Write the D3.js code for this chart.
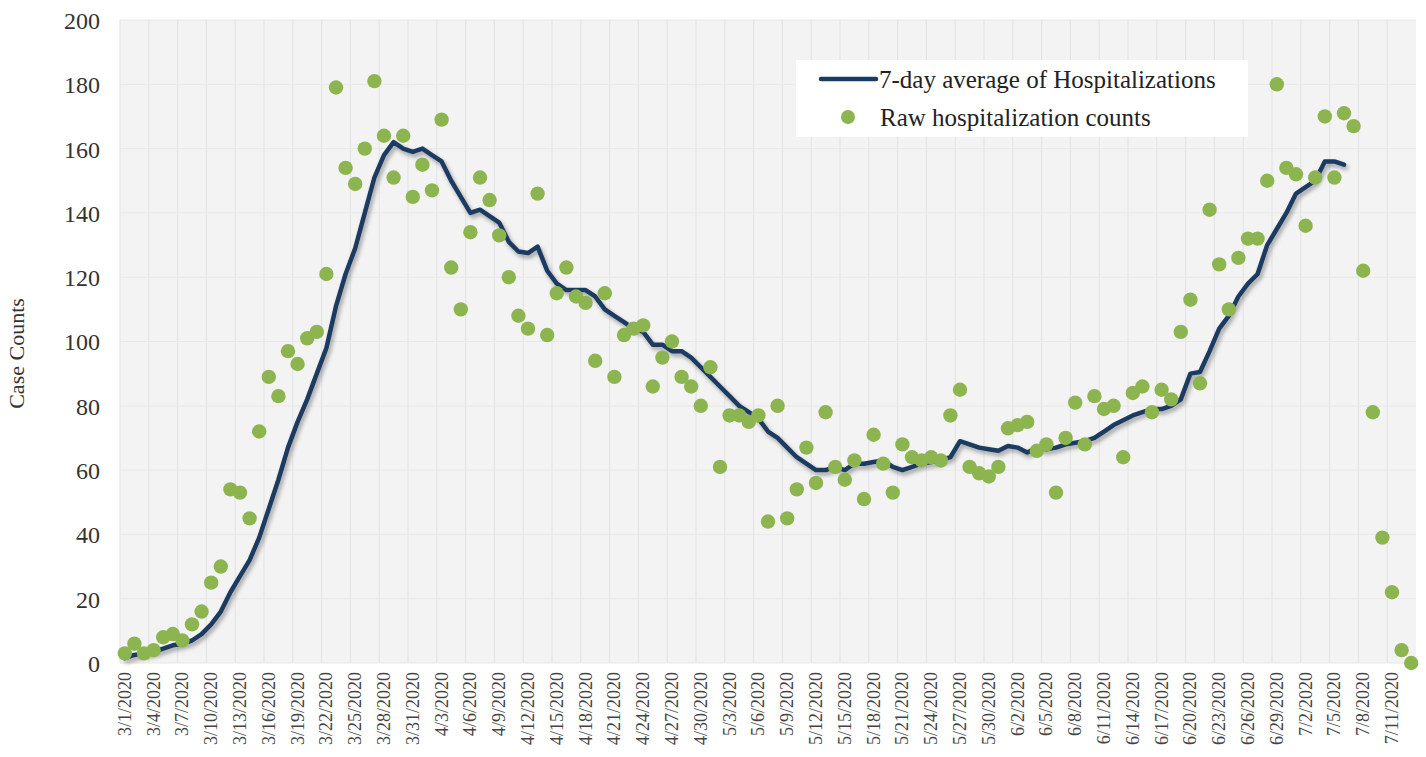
<!DOCTYPE html>
<html>
<head>
<meta charset="utf-8">
<script src="https://cdn.jsdelivr.net/npm/d3@7"></script>
<style>
  body { margin: 0; background: #fff; }
  svg { display: block; }
  svg text { font-family: "Liberation Serif", "DejaVu Serif", serif; }
  .y-axis text { font-size: 24px; fill: #333; }
  .x-label { font-size: 18px; fill: #444; }
  .legend-text { font-size: 25px; fill: #222; }
</style>
</head>
<body>
<svg id="chart"></svg>
<script>
// --- DATA ---
const startDate = new Date(2020, 2, 1);
const endDate = new Date(2020, 6, 14); // exclusive, last day 7/13
const dates = d3.timeDay.range(startDate, endDate);

// raw daily hospitalization counts, one per day from 3/1
const rawCounts = [
  3, 6, 3, 4, 8, 9, 7, 12, 16, 25,
  30, 54, 53, 45, 72, 89, 83, 97, 93, 101,
  103, 121, 179, 154, 149, 160, 181, 164, 151, 164,
  145, 155, 147, 169, 123, 110, 134, 151, 144, 133,
  120, 108, 104, 146, 102, 115, 123, 114, 112, 94,
  115, 89, 102, 104, 105, 86, 95, 100, 89, 86,
  80, 92, 61, 77, 77, 75, 77, 44, 80, 45,
  54, 67, 56, 78, 61, 57, 63, 51, 71, 62,
  53, 68, 64, 63, 64, 63, 77, 85, 61, 59,
  58, 61, 73, 74, 75, 66, 68, 53, 70, 81,
  68, 83, 79, 80, 64, 84, 86, 78, 85, 82,
  103, 113, 87, 141, 124, 110, 126, 132, 132, 150,
  180, 154, 152, 136, 151, 170, 151, 171, 167, 122,
  78, 39, 22, 4, 0
];

// 7-day average line (ends 7/7)
const avgCounts = [
  1.5, 2.5, 3, 3.5, 4.5, 5.5, 6, 7, 9, 12,
  16, 22, 27, 32, 39, 48, 57, 67, 75, 82,
  90, 98, 111, 121, 129, 140, 151, 158, 162, 160,
  159, 160, 158, 156, 150, 145, 140, 141, 139, 137,
  131, 128, 127.5, 129.5, 122, 118, 116, 116, 116, 114,
  110, 108, 106, 104, 103, 99, 99, 97, 97, 95,
  92, 89, 86, 83, 80, 78, 76, 72, 70, 67,
  64, 62, 60, 60, 61, 60, 62, 62, 62.5, 63,
  61, 60, 61, 62, 62.5, 63, 64, 69, 68, 67,
  66.5, 66, 67.5, 67, 65.5, 67, 66.5, 67, 68, 68.5,
  69, 70, 72, 74, 75.5, 77, 78, 79, 79, 80,
  82, 90, 90.5, 97, 104, 108, 114, 118, 121, 130,
  135, 140, 146, 148, 150, 156, 156, 155
];

const yTicks = [0, 20, 40, 60, 80, 100, 120, 140, 160, 180, 200];
const seriesNames = ["7-day average of Hospitalizations", "Raw hospitalization counts"];

// --- SETUP ---
const W = 1426, H = 757;
const plot = { left: 120, right: 1416, top: 20, bottom: 663 };
const lineColor = "#1d3b61";
const dotColor = "#8cb550";

const svg = d3.select("#chart").attr("width", W).attr("height", H);

const defs = svg.append("defs");
const shadow = defs.append("filter").attr("id", "shadow")
  .attr("x", "-5%").attr("y", "-5%").attr("width", "110%").attr("height", "110%");
shadow.append("feDropShadow")
  .attr("dx", 2).attr("dy", 3).attr("stdDeviation", 2)
  .attr("flood-color", "#000").attr("flood-opacity", 0.35);

const xScale = d3.scaleBand().domain(dates).range([plot.left, plot.right]).padding(0);
const yScale = d3.scaleLinear().domain([0, 200]).range([plot.bottom, plot.top]);
const xc = d => xScale(d) + xScale.bandwidth() / 2;
const fmt = d3.timeFormat("%-m/%-d/%Y");

// plot background
svg.append("rect")
  .attr("x", plot.left).attr("y", plot.top)
  .attr("width", plot.right - plot.left).attr("height", plot.bottom - plot.top)
  .attr("fill", "#f3f3f3");

// gridlines
const tickDates = dates.filter((d, i) => i % 3 === 0);
svg.append("g").selectAll("line").data(tickDates).join("line")
  .attr("x1", d => xScale(d)).attr("x2", d => xScale(d))
  .attr("y1", plot.top).attr("y2", plot.bottom)
  .attr("stroke", "#e4e4e4").attr("stroke-width", 1.2);

svg.append("g").selectAll("line").data(yTicks).join("line")
  .attr("x1", plot.left).attr("x2", plot.right)
  .attr("y1", d => yScale(d)).attr("y2", d => yScale(d))
  .attr("stroke", "#e8e8e8").attr("stroke-width", 1);

// y axis
const yAxisGroup = svg.append("g")
  .attr("class", "y-axis")
  .attr("transform", `translate(${plot.left - 20},0)`)
  .call(d3.axisLeft(yScale).tickValues(yTicks).tickSize(0).tickPadding(0));
yAxisGroup.attr("font-family", null).attr("font-size", null);
yAxisGroup.select(".domain").remove();
yAxisGroup.selectAll("text").attr("dy", "0.35em");

// x labels
svg.append("g").selectAll("text").data(tickDates).join("text")
  .attr("class", "x-label")
  .attr("text-anchor", "end")
  .attr("transform", d => `translate(${xc(d) + 6},${plot.bottom + 9}) rotate(-90)`)
  .text(d => fmt(d));

// y axis title
svg.append("text")
  .attr("text-anchor", "middle")
  .attr("transform", `translate(24,${(plot.top + plot.bottom) / 2 + 12}) rotate(-90)`)
  .style("font-size", "22px").style("fill", "#333")
  .text("Case Counts");

// 7-day average line
const line = d3.line()
  .x((d, i) => xc(dates[i]))
  .y(d => yScale(d));

svg.append("path")
  .datum(avgCounts)
  .attr("d", line)
  .attr("fill", "none")
  .attr("stroke", lineColor)
  .attr("stroke-width", 4.5)
  .attr("stroke-linejoin", "round")
  .attr("stroke-linecap", "round")
  .attr("filter", "url(#shadow)");

// raw dots
svg.append("g").selectAll("circle").data(rawCounts).join("circle")
  .attr("cx", (d, i) => xc(dates[i]))
  .attr("cy", d => yScale(d))
  .attr("r", 7.2)
  .attr("fill", dotColor);

// legend
const legend = svg.append("g").attr("transform", "translate(796,60)");
legend.append("rect")
  .attr("width", 452).attr("height", 77).attr("fill", "#fff");
legend.append("line")
  .attr("x1", 25).attr("x2", 80).attr("y1", 19).attr("y2", 19)
  .attr("stroke", lineColor).attr("stroke-width", 4.5).attr("stroke-linecap", "round");
legend.append("text").attr("class", "legend-text")
  .attr("x", 83).attr("y", 28).text(seriesNames[0]);
legend.append("circle")
  .attr("cx", 52).attr("cy", 57).attr("r", 7).attr("fill", dotColor);
legend.append("text").attr("class", "legend-text")
  .attr("x", 84).attr("y", 66).text(seriesNames[1]);
</script>
</body>
</html>
